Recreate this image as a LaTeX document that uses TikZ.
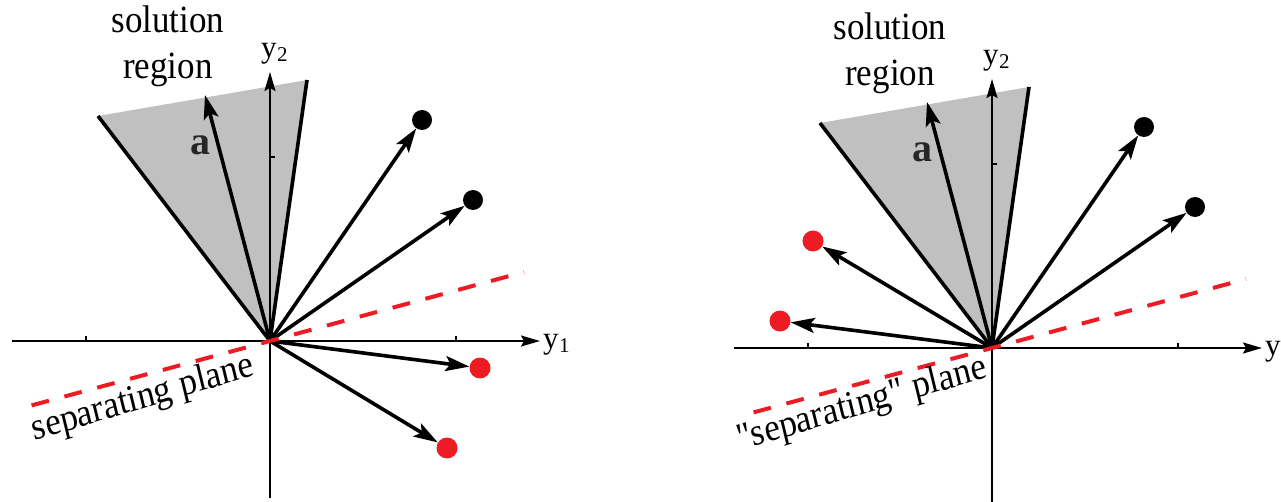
\documentclass[tikz,border=0pt]{standalone}
\usepackage{fontspec}
\setmainfont{Liberation Serif}[Ligatures=TeXOff]
\usetikzlibrary{arrows.meta}
\definecolor{redpt}{RGB}{237,28,36}
\definecolor{conegray}{RGB}{192,192,192}
\newcommand{\ylab}[1]{{\fontsize{31}{31}\selectfont y}\kern0.5pt{\fontsize{21}{21}\selectfont\raisebox{-4pt}{#1}}}
\begin{document}
\begin{tikzpicture}[x=1pt,y=-1pt,
 axis/.style={line width=2pt, -{Stealth[length=19pt,width=11pt,inset=3pt]}},
 vec/.style={line width=3.6pt, -{Stealth[length=24pt,width=15pt,inset=5pt]}},
 edgeline/.style={line width=3.6pt},
 sep/.style={draw=redpt, line width=4pt, dash pattern=on 18pt off 16pt, dash phase=9pt},
 bdot/.style={circle, fill=black, inner sep=0pt, minimum size=20pt},
 rdot/.style={circle, fill=redpt, inner sep=0pt, minimum size=21pt},
 lbl/.style={font=\fontsize{35}{42}\selectfont, align=center, inner sep=0pt, yscale=1.1},
 alab/.style={font=\fontsize{40}{40}\selectfont\bfseries, text=black!85, inner sep=0pt},
 tickmark/.style={line width=1.5pt}]
\useasboundingbox (0,0) rectangle (1281,502);

% ---------------- left panel ----------------
\coordinate (LO) at (270,341);
\coordinate (LA) at (98,116);
\coordinate (LB) at (307,80);
\fill[conegray] (LO) -- (LA) -- (LB) -- cycle;
\coordinate (LXl) at (12,341);
\coordinate (LXr) at (540,341);
\coordinate (LYb) at (270,498);
\coordinate (LYt) at (270,72);
\draw[axis] (LXl) -- (LXr);
\draw[axis] (LYb) -- (LYt);
\coordinate (LT1) at (86,341);
\coordinate (LT2) at (456,341);
\coordinate (LT3) at (270,157);
\draw[tickmark] (LT1) -- ++(0,-5);
\draw[tickmark] (LT2) -- ++(0,-5);
\draw[tickmark] (LT3) -- ++(5,0);
\draw[edgeline] (LO) -- (LA);
\draw[edgeline] (LO) -- (LB);
\coordinate (La) at (205,95);
\draw[vec] (LO) -- (La);
\node[bdot] (Lb1) at (422,120) {};
\node[bdot] (Lb2) at (473,200) {};
\node[rdot] (Lr1) at (480,368) {};
\node[rdot] (Lr2) at (447,448) {};
\foreach \t in {Lb1,Lb2,Lr1,Lr2} \draw[vec] (LO) -- (\t);
\coordinate (LSl) at (22,408);
\coordinate (LSr) at (524,272);
\draw[sep] (LO) -- (LSr);
\draw[sep] (LO) -- (LSl);
\node[lbl] (Lsol) at (168,46) {solution\\region};
\node[alab] (Lalab) at (200,145) {a};
\node[anchor=base west, inner sep=0pt] (Ly2) at (261,58) {\ylab{2}};
\node[anchor=base west, inner sep=0pt] (Ly1) at (543,348) {\ylab{1}};
\node[lbl, rotate=15] (Lsep) at (143,399) {separating plane};

% ---------------- right panel ----------------
\begin{scope}[shift={(722,7)}]
\coordinate (RO) at (270,341);
\coordinate (RA) at (98,116);
\coordinate (RB) at (307,80);
\fill[conegray] (RO) -- (RA) -- (RB) -- cycle;
\coordinate (RXl) at (12,341);
\coordinate (RXr) at (540,341);
\coordinate (RYb) at (270,498);
\coordinate (RYt) at (270,72);
\draw[axis] (RXl) -- (RXr);
\draw[axis] (RYb) -- (RYt);
\coordinate (RT1) at (86,341);
\coordinate (RT2) at (456,341);
\coordinate (RT3) at (270,157);
\draw[tickmark] (RT1) -- ++(0,-5);
\draw[tickmark] (RT2) -- ++(0,-5);
\draw[tickmark] (RT3) -- ++(5,0);
\draw[edgeline] (RO) -- (RA);
\draw[edgeline] (RO) -- (RB);
\coordinate (Ra) at (205,95);
\draw[vec] (RO) -- (Ra);
\node[bdot] (Rb1) at (422,120) {};
\node[bdot] (Rb2) at (473,200) {};
\node[rdot] (Rr1) at (58,314) {};
\node[rdot] (Rr2) at (91,234) {};
\foreach \t in {Rb1,Rb2,Rr1,Rr2} \draw[vec] (RO) -- (\t);
\coordinate (RSl) at (22,408);
\coordinate (RSr) at (524,272);
\draw[sep] (RO) -- (RSr);
\draw[sep] (RO) -- (RSl);
\node[lbl] (Rsol) at (168,46) {solution\\region};
\node[alab] (Ralab) at (200,145) {a};
\node[anchor=base west, inner sep=0pt] (Ry2) at (261,58) {\ylab{2}};
\node[anchor=base west, inner sep=0pt] (Ry1) at (543,348) {{\fontsize{31}{31}\selectfont y}};
\node[lbl, rotate=15] (Rsep) at (140,398) {"separating" plane};
\end{scope}
\end{tikzpicture}
\end{document}
